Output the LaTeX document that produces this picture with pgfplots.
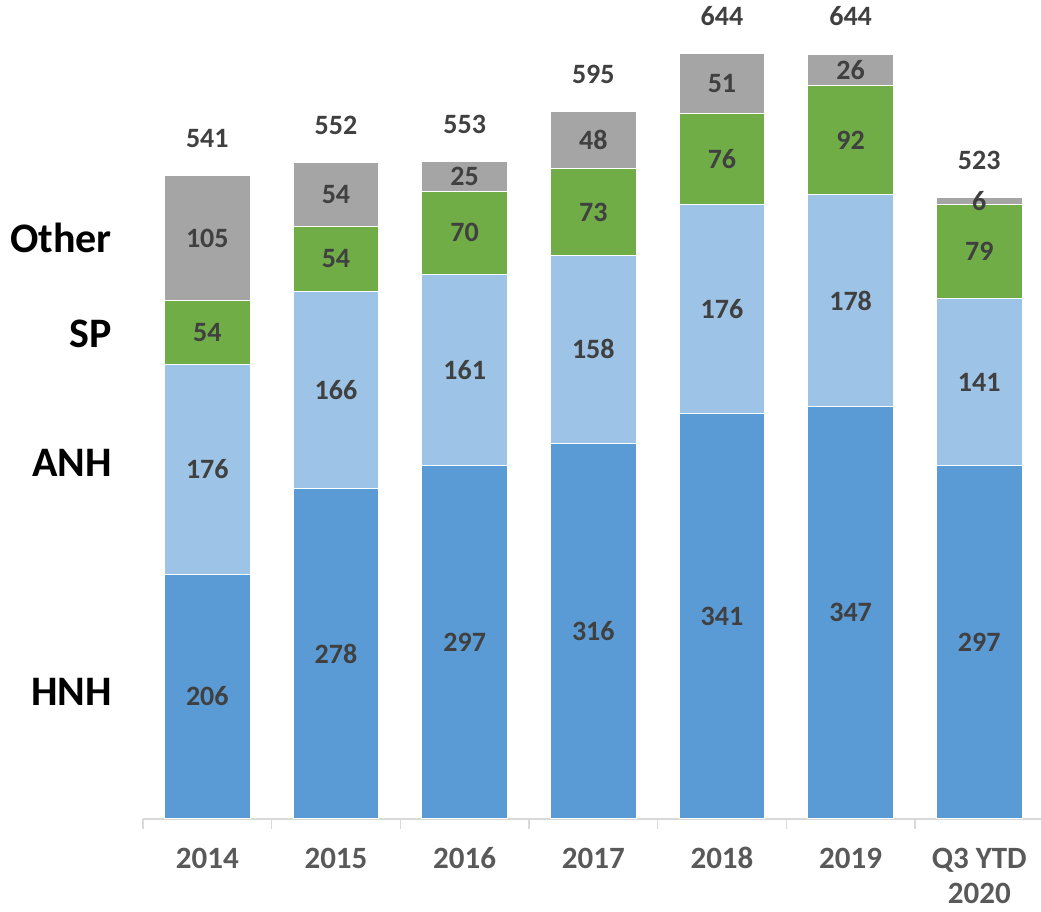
\documentclass[border=0pt]{standalone}
\usepackage{fontspec}
\setmainfont{Carlito}
\usepackage{pgfplots}
\usepackage{pgfplotstable}
\pgfplotsset{compat=1.18}
\definecolor{hnh}{HTML}{5B9BD5}
\definecolor{anh}{HTML}{9DC3E6}
\definecolor{sp}{HTML}{70AD47}
\definecolor{oth}{HTML}{A5A5A5}
\definecolor{lab}{HTML}{404040}
\definecolor{cat}{HTML}{595959}
\definecolor{axl}{HTML}{D9D9D9}
\pgfplotstableread{
x HNH ANH SP Other
0 206 176 54 105
1 278 166 54 54
2 297 161 70 25
3 316 158 73 48
4 341 176 76 51
5 347 178 92 26
6 297 141 79 6
}\datatable
\pgfplotstableread{
x y lab
0 103 206
0 294 176
0 409 54
0 488.5 105
0 572 541
1 139 278
1 361 166
1 471 54
1 525 54
1 583 552
2 148.5 297
2 377.5 161
2 493 70
2 540.5 25
2 584 553
3 158 316
3 395 158
3 510.5 73
3 571 48
3 626 595
4 170.5 341
4 429 176
4 555 76
4 618.5 51
4 675 644
5 173.5 347
5 436 178
5 571 92
5 630 26
5 675 644
6 148.5 297
6 367.5 141
6 477.5 79
6 520 6
6 554 523
}\labtable
\begin{document}
\begin{tikzpicture}
\useasboundingbox (0,0) rectangle (1041pt,912pt);
\begin{axis}[
  at={(143pt,93pt)}, anchor=south west,
  scale only axis, width=900.6pt, height=818pt,
  xmin=-0.5, xmax=6.5, ymin=0, ymax=688,
  ybar stacked, bar width=85.7pt,
  hide y axis,
  axis x line*=bottom,
  axis line style={-, draw=axl, line width=1.2pt},
  xtick={0,...,6},
  xticklabels={\strut 2014,\strut 2015,\strut 2016,\strut 2017,\strut 2018,\strut 2019,{\strut Q3 YTD\\2020}},
  minor xtick={-0.5,0.5,...,6.5},
  tick align=outside,
  major tick length=0pt,
  minor tick length=10pt,
  minor x tick style={draw=axl, line width=1.2pt},
  xticklabel style={font=\fontsize{31}{35}\selectfont\bfseries, text=cat, align=center, anchor=north, yshift=-21.5pt},
  /pgf/number format/assume math mode=true,
  clip=false,
]
\addplot[fill=hnh, draw=white, line width=1pt] table[x=x, y=HNH] {\datatable};
\addplot[fill=anh, draw=white, line width=1pt] table[x=x, y=ANH] {\datatable};
\addplot[fill=sp, draw=white, line width=1pt] table[x=x, y=SP] {\datatable};
\addplot[fill=oth, draw=white, line width=1pt] table[x=x, y=Other] {\datatable};
\node[anchor=east, inner sep=0pt, font=\fontsize{42}{46}\selectfont\bfseries] at (axis cs:-0.741,488.6) {Other};
\node[anchor=east, inner sep=0pt, font=\fontsize{42}{46}\selectfont\bfseries] at (axis cs:-0.741,408) {SP};
\node[anchor=east, inner sep=0pt, font=\fontsize{42}{46}\selectfont\bfseries] at (axis cs:-0.741,299.4) {ANH};
\node[anchor=east, inner sep=0pt, font=\fontsize{42}{46}\selectfont\bfseries] at (axis cs:-0.741,106.8) {HNH};
\end{axis}
\begin{axis}[
  at={(143pt,93pt)}, anchor=south west,
  scale only axis, width=900.6pt, height=818pt,
  xmin=-0.5, xmax=6.5, ymin=0, ymax=688,
  hide axis, clip=false,
]
\addplot[draw=none, mark=none, nodes near coords, point meta=explicit symbolic,
  every node near coord/.append style={anchor=center, text=lab, font=\fontsize{28}{30}\selectfont\bfseries}]
  table[x=x, y=y, meta=lab] {\labtable};
\end{axis}
\end{tikzpicture}
\end{document}
